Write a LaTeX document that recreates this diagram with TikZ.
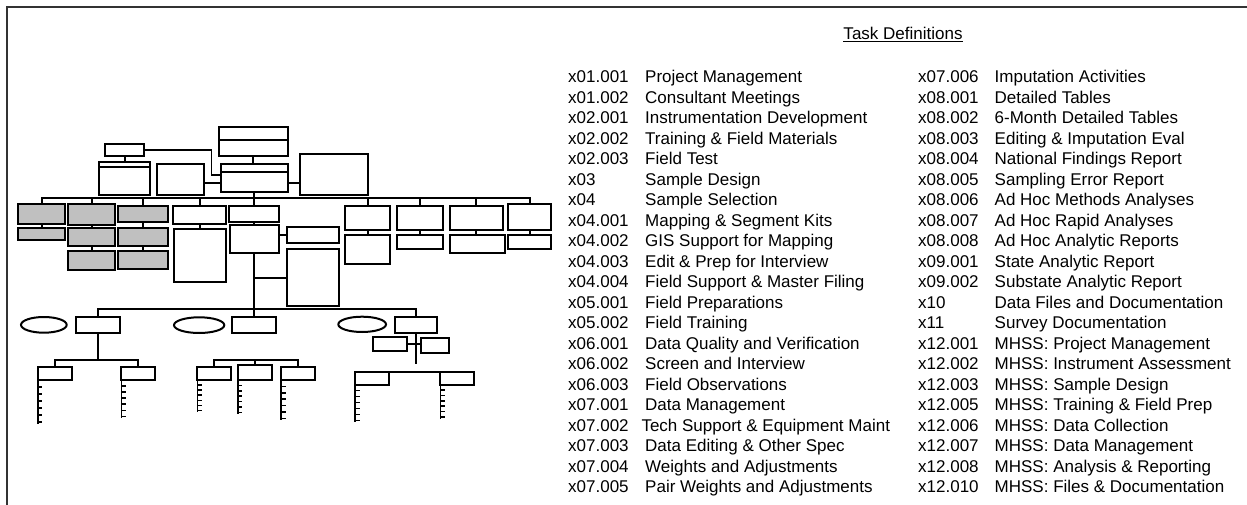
\documentclass[tikz,border=0pt]{standalone}
\usepackage{fontspec}
\setmainfont{Liberation Sans}
\usetikzlibrary{shapes.geometric,calc}
\definecolor{boxgray}{RGB}{192,192,192}
\definecolor{framecol}{RGB}{51,51,51}
\tikzset{
  box/.style={draw=black,line width=2.0,inner sep=0,outer sep=0,fill=white},
  gbox/.style={box,fill=boxgray},
  conn/.style={draw=black,line width=2.0},
  thinconn/.style={draw=black,line width=1.2},
  tickline/.style={draw=black,line width=1.6},
  txt/.style={anchor=base west,inner sep=0,font=\fontsize{17}{20}\selectfont}
}
\newcommand\mybox[6][]{\node[box,#1,minimum width={(#5-#3)*1pt},minimum height={(#6-#4)*1pt}] (#2) at ({(#3+#5)/2},{(#4+#6)/2}) {};}
\newcommand\tickcol[2]{%
  \coordinate (#1-top) at (#1.south west);
  \coordinate (#1-end) at (#1.south west |- 0,#2);
  \draw[tickline] (#1-top) -- (#1-end);
  \foreach \k in {1,...,6}{\draw[tickline] ($(#1-top)!\k/6.3!(#1-end)$) -- ++(4.5,0);}%
}
\begin{document}
\begin{tikzpicture}[x=1pt,y=-1pt]
\useasboundingbox (0,0) rectangle (1247,505);
% frame
\draw[framecol,line width=1.8] (7,505) -- (7,7.3) -- (1247,7.3);

% --- top levels
\mybox{T}{219.3}{126.7}{287.5}{155.7}
\mybox{M}{221}{164}{287.5}{191.7}
\mybox{S}{105}{144.3}{144}{155.7}
\mybox{L}{99}{162.3}{150.3}{194.7}
\mybox{L2}{156.7}{164}{203.7}{194.7}
\mybox{R}{300}{154.3}{367.7}{194.7}
\draw[conn] (T.west |- 0,139.7) -- (T.east |- 0,139.7);
\draw[conn] (M.west |- 0,172) -- (M.east |- 0,172);
\draw[conn] (L.west |- 0,167) -- (L.east |- 0,167);

% --- row 1
\mybox[gbox]{g1}{18.3}{204.3}{65.3}{224}
\mybox[gbox]{g1b}{18.3}{228}{65.3}{239.7}
\mybox[gbox]{g2}{68.3}{204.3}{115.3}{225.3}
\mybox[gbox]{g2b}{68.3}{228}{115.3}{246.3}
\mybox[gbox]{g2c}{68.3}{251}{115.3}{270.3}
\mybox[gbox]{g3}{118.3}{206.3}{168}{221.7}
\mybox[gbox]{g3b}{118.3}{228}{168}{246}
\mybox[gbox]{g3c}{118.3}{251}{168}{268.7}
\mybox{w4}{172.7}{206.3}{226.3}{223.7}
\mybox{w4b}{174.3}{228.7}{226.3}{281.7}
\mybox{w5}{229.3}{206.3}{279.3}{221.7}
\mybox{w5b}{230}{225.3}{278.5}{252.7}
\mybox{r1}{287.3}{226.7}{338.7}{243}
\mybox{r2}{287.3}{249.3}{338.7}{305.7}
\mybox{b6}{345.3}{206}{390.3}{230}
\mybox{b6b}{345.3}{235}{390.3}{264}
\mybox{b7}{396.7}{206}{443.3}{230}
\mybox{b7b}{396.7}{235}{443.3}{249.3}
\mybox{b8}{449.7}{206}{503}{230}
\mybox{b8b}{449.7}{235}{504.7}{252.7}
\mybox{b9}{507.7}{204.3}{551.3}{230}
\mybox{b9b}{507.7}{235}{551.3}{249.3}

% --- row of ellipses and boxes
\mybox[ellipse]{e1}{21}{317}{66.7}{332.7}
\mybox{A}{76}{317}{120}{333}
\mybox[ellipse]{e2}{174}{317.3}{224.3}{333}
\mybox{B}{232.3}{317.3}{276.2}{333}
\mybox[ellipse]{e3}{338.3}{316.7}{386}{332}
\mybox{C}{395}{317.3}{437.3}{333.3}

% --- bottom boxes
\mybox{a1}{37.7}{366.7}{71.7}{379.7}
\mybox{a2}{121.3}{366.7}{155.3}{379.7}
\mybox{bb1}{197.3}{367.3}{231}{380}
\mybox{bb2}{237.7}{365.3}{271.7}{380}
\mybox{bb3}{281}{366.7}{314.7}{380}
\mybox{c1}{372.7}{336.7}{406.7}{351}
\mybox{c2}{421}{337.7}{448.7}{352.7}
\mybox{c3}{355}{371.7}{389}{384.7}
\mybox{c4}{440.3}{371.7}{474.3}{384.7}

% --- connectors, top
\draw[conn] (T.south) -- (T.south |- M.north);
\draw[conn] (S.south) -- (S.south |- L.north);
\coordinate (sj) at (211.7,175);
\draw[thinconn] (S.east) -| (sj) -- (sj -| M.west);
\coordinate (mj) at (0,183.3);
\draw[conn] (L2.east |- mj) -- (M.west |- mj);
\draw[conn] (M.east |- mj) -- (R.west |- mj);
\coordinate (bus1) at (0,198);
\draw[conn] (g1.north) -- (g1.north |- bus1) -- (b9.north |- bus1) -- (b9.north);
\foreach \n in {g2,g3,w4,b6,b7,b8} \draw[conn] (\n.north) -- (\n.north |- bus1);
\draw[conn] (M.south) -- (M.south |- w5.north);
\foreach \a/\b in {g1/g1b,g2/g2b,g2b/g2c,g3/g3b,g3b/g3c,w4/w4b,w5/w5b,b6/b6b,b7/b7b,b8/b8b,b9/b9b}
  \draw[conn] (\a.south) -- (\a.south |- \b.north);
\draw[conn] (w5b.south) -- (w5b.south |- B.north);
\draw[conn] (r1.west) -- (r1.west -| w5b.east);
\draw[conn] (r2.west) -- (r2.west -| w5b.south);
\coordinate (bus2) at (0,309);
\draw[conn] (A.north) -- (A.north |- bus2) -- (C.north |- bus2) -- (C.north);

% --- connectors, bottom
\coordinate (busA) at (0,360);
\draw[conn] (A.south) -- (A.south |- busA);
\draw[conn] (a1.north) -- (a1.north |- busA) -- (a2.north |- busA) -- (a2.north);
\draw[conn] (bb1.north) -- (bb1.north |- busA) -- (bb3.north |- busA) -- (bb3.north);
\draw[conn] (bb2.north) -- (bb2.north |- busA);
\coordinate (cend) at (416.15,364);
\draw[conn] (C.south) -- (cend);
\draw[conn] (c1.east) -- (c1.east -| c2.west);
\draw[conn] (c3.north west) -- (c4.north east);

% --- tick columns
\tickcol{a1}{424}
\tickcol{a2}{418.3}
\tickcol{bb1}{412}
\tickcol{bb2}{414}
\tickcol{bb3}{420.3}
\tickcol{c3}{422.3}
\tickcol{c4}{418.7}

% --- task definitions
\node[anchor=base,inner sep=0,font=\fontsize{17}{20}\selectfont] (td) at (903,39.5) {Task Definitions};
\draw[line width=1] ([yshift=-2.2pt]td.base west) -- ([yshift=-2.2pt]td.base east);

\foreach \c/\d/\dx [count=\i from 0] in {
 x01.001/Project Management/645,
 x01.002/Consultant Meetings/645,
 x02.001/Instrumentation Development/645,
 x02.002/Training \& Field Materials/645,
 x02.003/Field Test/645,
 x03/Sample Design/645,
 x04/Sample Selection/645,
 x04.001/Mapping \& Segment Kits/645,
 x04.002/GIS Support for Mapping/645,
 x04.003/Edit \& Prep for Interview/645,
 x04.004/Field Support \& Master Filing/645,
 x05.001/Field Preparations/645,
 x05.002/Field Training/645,
 x06.001/Data Quality and Verification/645,
 x06.002/Screen and Interview/645,
 x06.003/Field Observations/645,
 x07.001/Data Management/645,
 x07.002/Tech Support \& Equipment Maint/641.3,
 x07.003/Data Editing \& Other Spec/645,
 x07.004/Weights and Adjustments/645,
 x07.005/Pair Weights and Adjustments/645}
{
 \node[txt] (pc\i) at (568,{82.5+20.51*\i}) {\c};
 \node[txt] (pd\i) at (\dx,{82.5+20.51*\i}) {\d};
}
\foreach \c/\d [count=\i from 0] in {
 x07.006/Imputation Activities,
 x08.001/Detailed Tables,
 x08.002/6-Month Detailed Tables,
 x08.003/Editing \& Imputation Eval,
 x08.004/National Findings Report,
 x08.005/Sampling Error Report,
 x08.006/Ad Hoc Methods Analyses,
 x08.007/Ad Hoc Rapid Analyses,
 x08.008/Ad Hoc Analytic Reports,
 x09.001/State Analytic Report,
 x09.002/Substate Analytic Report,
 x10/Data Files and Documentation,
 x11/Survey Documentation,
 x12.001/MHSS: Project Management,
 x12.002/MHSS: Instrument Assessment,
 x12.003/MHSS: Sample Design,
 x12.005/MHSS: Training \& Field Prep,
 x12.006/MHSS: Data Collection,
 x12.007/MHSS: Data Management,
 x12.008/MHSS: Analysis \& Reporting,
 x12.010/MHSS: Files \& Documentation}
{
 \node[txt] (qc\i) at (918,{82.5+20.51*\i}) {\c};
 \node[txt] (qd\i) at (994.5,{82.5+20.51*\i}) {\d};
}
\end{tikzpicture}
\end{document}
